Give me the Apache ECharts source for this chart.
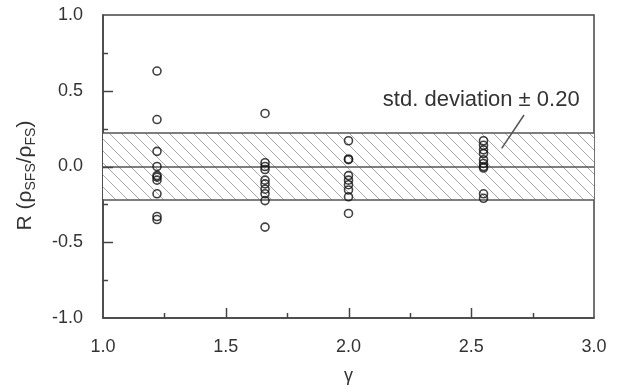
<!DOCTYPE html>
<html>
 <head>
  <title>R vs gamma scatter</title>
  <script src="https://cdn.jsdelivr.net/npm/echarts@6/dist/echarts.min.js"></script>
  <style>
    html, body, #container {
    width: 100%;
    height: 100%;
    margin: 0;
    padding: 0;
    background: #fff;
    }
  </style>
 </head>

<body>
  <div id="container"></div>
  <script>

    // gamma positions and R values
    var gammas = [1.22, 1.66, 2.0, 2.55];
    var col1 = [0.63, 0.31, 0.10, 0.00, -0.06, -0.07, -0.09, -0.18, -0.33, -0.35];
    var col2 = [0.35, 0.025, 0.0, -0.02, -0.09, -0.115, -0.15, -0.18, -0.225, -0.40];
    var col3 = [0.17, 0.05, 0.045, -0.06, -0.09, -0.12, -0.155, -0.20, -0.31];
    var col4 = [0.17, 0.14, 0.11, 0.085, 0.045, 0.02, 0.0, -0.01, -0.18, -0.21];
    var bandHalf = 0.22;
    var annotText = 'std. deviation \u00b1 0.20';

    // tick positions (inside ticks on the left and bottom axes)
    var xMajorTicks = [1.5, 2.0, 2.5];
    var xMinorTicks = [1.25, 1.75, 2.25, 2.75];
    var yMajorTicks = [-0.5, 0.0, 0.5];
    var yMinorTicks = [-0.75, -0.25, 0.25, 0.75];

    var points = [];
    [col1, col2, col3, col4].forEach(function(col, i) {
      col.forEach(function(v) { points.push([gammas[i], v]); });
    });

    // diagonal hatch tile for the std. deviation band
    var tile = document.createElement('canvas');
    tile.width = 12;
    tile.height = 12;
    var ctx = tile.getContext('2d');
    ctx.fillStyle = '#fff';
    ctx.fillRect(0, 0, 12, 12);
    ctx.strokeStyle = '#a8a8a8';
    ctx.lineWidth = 1;
    ctx.beginPath();
    ctx.moveTo(-2, -2); ctx.lineTo(14, 14);
    ctx.moveTo(-2, 10); ctx.lineTo(2, 14);
    ctx.moveTo(10, -2); ctx.lineTo(14, 2);
    ctx.stroke();

    var font = 'Liberation Sans, Arial, sans-serif';
    var myChart = echarts.init(document.getElementById('container'));

    var options = {
      backgroundColor: '#fff',
      animation: false,
      grid: {
        left: 103, right: 24, top: 15, bottom: 71,
        outerBoundsMode: 'none',
        containLabel: false,
        show: true, borderColor: '#444', borderWidth: 1.5, backgroundColor: 'transparent'
      },
      xAxis: {
        type: 'value',
        min: 1.0, max: 3.0, interval: 0.5,
        name: '\u03b3',
        nameLocation: 'middle',
        nameGap: 43,
        nameMoveOverlap: false,
        nameTextStyle: { fontFamily: font, fontSize: 18, color: '#333' },
        axisLine: { show: true, onZero: false, lineStyle: { color: '#444', width: 1.5 } },
        axisTick: { show: false },
        splitLine: { show: false },
        axisLabel: {
          fontFamily: font, fontSize: 18, color: '#333', margin: 14,
          formatter: function(v) { return v.toFixed(1); }
        }
      },
      yAxis: {
        type: 'value',
        min: -1.0, max: 1.0, interval: 0.5,
        name: 'R (\u03c1{sub|SFS}/\u03c1{sub|FS})',
        nameLocation: 'middle',
        nameRotate: 90,
        nameGap: 60,
        nameMoveOverlap: false,
        nameTextStyle: {
          fontFamily: font, fontSize: 21, color: '#333',
          padding: [0, 18, 0, 0],
          rich: { sub: { fontFamily: font, fontSize: 14, color: '#333', verticalAlign: 'bottom', padding: [9, 0, 0, 0] } }
        },
        axisLine: { show: true, onZero: false, lineStyle: { color: '#444', width: 1.5 } },
        axisTick: { show: false },
        splitLine: { show: false },
        axisLabel: {
          fontFamily: font, fontSize: 18, color: '#333', margin: 20,
          formatter: function(v) { return v.toFixed(1); }
        }
      },
      series: [
        {
          name: 'band',
          type: 'line',
          data: [],
          silent: true,
          markArea: {
            silent: true,
            itemStyle: { color: { image: tile, repeat: 'repeat' } },
            data: [[{ coord: [1.0, -bandHalf] }, { coord: [3.0, bandHalf] }]]
          },
          markLine: {
            silent: true,
            symbol: 'none',
            label: { show: false },
            lineStyle: { color: '#555', width: 1.5, type: 'solid' },
            data: [
              { yAxis: bandHalf },
              { yAxis: 0 },
              { yAxis: -bandHalf },
              [{ coord: [2.715, 0.34] }, { coord: [2.624, 0.12] }]
            ]
          },
          markPoint: {
            silent: true,
            symbol: 'circle',
            symbolSize: 0,
            data: [{ coord: [2.14, 0.44] }],
            label: {
              show: true, position: 'right', distance: 0,
              formatter: annotText,
              fontFamily: font, fontSize: 22, color: '#333'
            }
          }
        },
        {
          name: 'R',
          type: 'scatter',
          data: points,
          symbol: 'circle',
          symbolSize: 8,
          itemStyle: { color: 'transparent', borderColor: '#111', borderWidth: 1.6 },
          z: 5
        }
      ]
    };

    myChart.setOption(options);

    // inside ticks placed through the chart's own coordinate conversion,
    // snapped to the pixel grid so thin strokes stay crisp
    var ticks = [];
    function addTicks(values, onX, len) {
      values.forEach(function(v) {
        var p = myChart.convertToPixel({ gridIndex: 0 }, onX ? [v, -1.0] : [1.0, v]);
        var px = Math.round(p[0]) + 0.5;
        var py = Math.round(p[1]) + 0.5;
        ticks.push({
          type: 'line',
          silent: true,
          z: 50,
          shape: onX
            ? { x1: px, y1: p[1], x2: px, y2: p[1] - len }
            : { x1: p[0], y1: py, x2: p[0] + len, y2: py },
          style: { stroke: '#444', lineWidth: 1.5 }
        });
      });
    }
    addTicks(xMajorTicks, true, 10);
    addTicks(xMinorTicks, true, 5);
    addTicks(yMajorTicks, false, 10);
    addTicks(yMinorTicks, false, 5);
    myChart.setOption({ graphic: ticks });
  </script>
</body>
</html>
